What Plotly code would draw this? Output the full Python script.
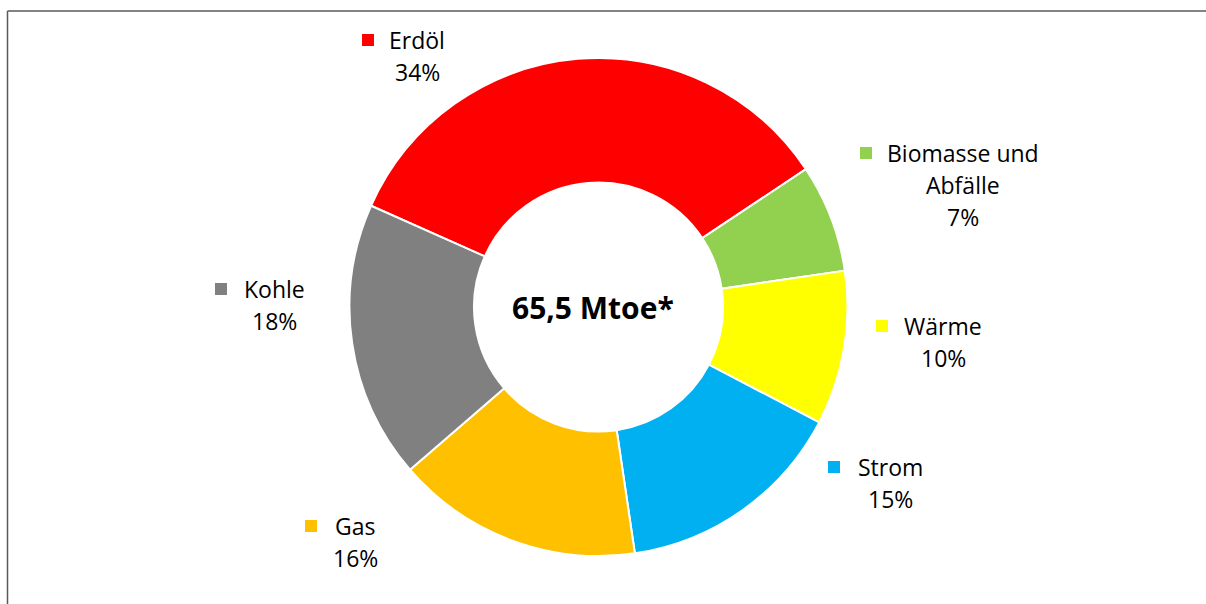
import plotly.graph_objects as go

categories = ["Erdöl", "Biomasse und<br>Abfälle", "Wärme", "Strom", "Gas", "Kohle"]
values = [34, 7, 10, 15, 16, 18]
colors = ["#FF0000", "#92D050", "#FFFF00", "#00B0F0", "#FFC000", "#808080"]
center_text = "65,5 Mtoe*"

W, H = 1206, 604

def px(x):
    return x / W

def py(y):
    return 1 - y / H

cx, cy, r = 598.5, 307, 249

fig = go.Figure(go.Pie(
    values=values,
    labels=categories,
    marker=dict(colors=colors, line=dict(color="white", width=2)),
    hole=0.5,
    sort=False,
    direction="clockwise",
    rotation=-66,
    textinfo="none",
    hoverinfo="label+percent",
    domain=dict(x=[px(cx - r), px(cx + r)], y=[py(cy + r), py(cy - r)]),
    showlegend=False,
))

# label anchors (center of text block, first-line y, square x)
label_pos = [
    (417, 40, 368),
    (963, 153, 866),
    (943, 326, 882),
    (890, 467, 834),
    (355, 526, 311),
    (274, 289, 221),
]
line_gap = 32

font = "Open Sans, Noto Sans, sans-serif"
annotations = []
shapes = []
for cat, val, col, (tx, ty, sx) in zip(categories, values, colors, label_pos):
    lines = cat.split("<br>") + [f"{val}%"]
    for i, ln in enumerate(lines):
        annotations.append(dict(
            x=px(tx), y=py(ty + i * line_gap), xref="paper", yref="paper",
            xanchor="center", yanchor="middle",
            text=ln, showarrow=False, align="center",
            font=dict(family=font, size=23, color="#000000"),
        ))
    shapes.append(dict(
        type="rect", xref="paper", yref="paper",
        x0=px(sx - 6), x1=px(sx + 6), y0=py(ty + 6), y1=py(ty - 6),
        fillcolor=col, line=dict(width=0),
    ))

annotations.append(dict(
    x=px(593), y=py(cy), xref="paper", yref="paper",
    xanchor="center", yanchor="middle", text=f"<b>{center_text}</b>",
    showarrow=False, font=dict(family=font, size=30, color="#000000"),
))

# frame lines
shapes.append(dict(type="line", xref="paper", yref="paper",
                   x0=px(7.5), x1=px(7.5), y0=0, y1=py(11),
                   line=dict(color="#5a5a5a", width=1.5)))
shapes.append(dict(type="line", xref="paper", yref="paper",
                   x0=px(7.5), x1=1, y0=py(11), y1=py(11),
                   line=dict(color="#5a5a5a", width=1.5)))

fig.update_layout(
    width=W, height=H,
    margin=dict(l=0, r=0, t=0, b=0),
    paper_bgcolor="white", plot_bgcolor="white",
    annotations=annotations, shapes=shapes,
)

fig.write_html("out.html")
